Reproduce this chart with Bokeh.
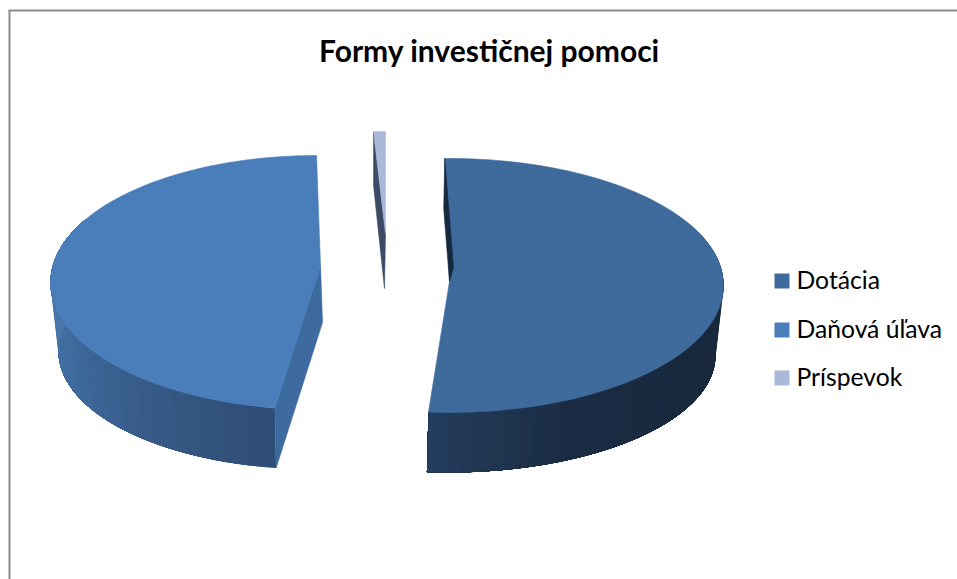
import numpy as np
from bokeh.plotting import figure
from bokeh.models import Range1d
from bokeh.core.properties import value
from bokeh.embed import file_html
from bokeh.resources import INLINE

title = "Formy investičnej pomoci"
categories = ["Dotácia", "Daňová úľava", "Príspevok"]
shares = [51.5, 47.5, 1.0]
top_colors = ["#3e6a9c", "#4a7ebb", "#a9b9d9"]
legend_colors = ["#3e6a9c", "#4a7ebb", "#a9b9d9"]

W, H = 957, 579
p = figure(width=W, height=H, output_backend="svg", toolbar_location=None,
           x_range=Range1d(0, W), y_range=Range1d(H, 0),
           x_axis_type=None, y_axis_type=None, min_border=0,
           background_fill_color="white", border_fill_color="white")
p.grid.visible = False
p.outline_line_color = None

spans = [s / sum(shares) * 360 for s in shares]


def rim(e, t):
    t = np.radians(t)
    return e[0] + e[2] * np.sin(t), e[1] - e[3] * np.cos(t)


def poly(xs, ys, color, lw=0.6):
    p.patch(list(xs), list(ys), fill_color=color, line_color=color, line_width=lw)


def mix(stops, f):
    f = min(max(f, 0), 1) * (len(stops) - 1)
    i = min(int(f), len(stops) - 2)
    a, b = stops[i], stops[i + 1]
    c = [a[k] + (b[k] - a[k]) * (f - i) for k in range(3)]
    return "#%02x%02x%02x" % tuple(int(round(v)) for v in c)


def side(top, bot, t0, t1, stops, step=3):
    # each band runs on to the far end, so that later bands overlap it and no seams show
    ts = np.arange(t0, t1 + step, step)
    ts[-1] = t1
    for i in range(len(ts) - 1):
        rest = np.linspace(ts[i], t1, 60)
        xa, ya = rim(top, rest)
        xb, yb = rim(bot, rest[::-1])
        p.patch(list(np.r_[xa, xb]), list(np.r_[ya, yb]),
                fill_color=mix(stops, (ts[i] - t0) / (t1 - t0)), line_color=None)


# frame
p.line([8, W], [10, 10], line_color="#8c8c8c", line_width=2)
p.line([9, 9], [10, H], line_color="#8c8c8c", line_width=2)

# Dotácia
start = -1.0
end = start + spans[0]
top = (449, 285, 274, 127)
bot = (447, 355, 268, 117)
apex = (449, 281)
side(top, bot, 60, end, [(0x18, 0x29, 0x3e), (0x18, 0x29, 0x3e), (0x18, 0x29, 0x3e),
                         (0x1a, 0x2c, 0x44), (0x24, 0x3e, 0x5e)])
ts = np.linspace(start, end, 120)
xs, ys = rim(top, ts)
poly(np.r_[apex[0], xs], np.r_[apex[1], ys], top_colors[0])
sx, sy = rim(top, start)
poly([sx, apex[0] + 4, apex[0], sx - 1], [sy, apex[1] - 14, apex[1], sy + 50], "#17293f")

# Daňová úľava
end = 360.0
start = end - spans[1]
top = (316, 282, 266, 127)
bot = (316, 351, 258, 118)
apex = (320, 265)
side(top, bot, start, 300, [(0x2e, 0x4d, 0x75), (0x36, 0x5a, 0x86), (0x3e, 0x69, 0x9b),
                            (0x47, 0x75, 0xaa), (0x47, 0x75, 0xaa)])
sx, sy = rim(top, start)
bx, by = rim(bot, start)
poly([apex[0], apex[0] + 2, bx, sx], [apex[1], apex[1] + 57, by, sy], "#3d6a9f")
ts = np.linspace(start, end, 120)
xs, ys = rim(top, ts)
poly(np.r_[apex[0], xs], np.r_[apex[1], ys], top_colors[1])

# Príspevok
end = 360.0
start = end - spans[2]
top = (385, 258, 190, 127)
apex = (385, 233)
sx, sy = rim(top, start)
poly([sx, sx, apex[0] - 1, apex[0]], [sy, sy + 54, apex[1] + 55, apex[1]], "#3c4b66")
ts = np.linspace(start, end, 10)
xs, ys = rim(top, ts)
poly(np.r_[apex[0], xs], np.r_[apex[1], ys], top_colors[2])

# title
p.text([489], [49], text=[title], text_font=value("Lato"), text_font_style="bold",
       text_font_size="30px", text_color="#000000", text_align="center", text_baseline="middle")

# legend
legend_y = [280, 329, 377]
for name, c, y in zip(categories, legend_colors, legend_y):
    p.rect([781.5], [y + 0.5], width=15, height=15, fill_color=c, line_color=None)
    p.text([796], [y - 1.5], text=[name], text_font=value("Lato"), text_font_size="24.7px",
           text_color="#000000", text_align="left", text_baseline="middle")

open("out.html", "w").write(file_html(p, INLINE))
